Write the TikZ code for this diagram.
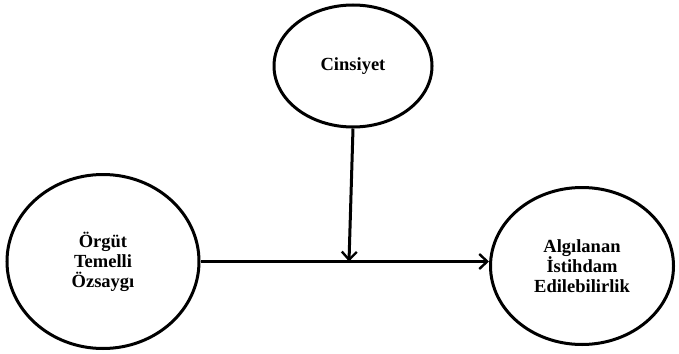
\documentclass[tikz,border=0pt]{standalone}
\usepackage{fontspec}
\setmainfont{Liberation Serif}
\usepackage{tikz}
\usetikzlibrary{arrows.meta,positioning,shapes.geometric}
\tikzset{>={Straight Barb[length=8pt,width=15pt,line width=2.4pt]}}
\tikzset{
  var/.style={ellipse, draw=black, line width=3pt, align=center,
    inner sep=0pt, font=\bfseries\fontsize{18.5}{20}\selectfont},
  flow/.style={->, line width=3pt}
}

\begin{document}
\begin{tikzpicture}[x=1pt, y=-1pt] % 1 px = 1 pt
\useasboundingbox (0,0) rectangle (679,353);

% Degiskenler
\node[var, minimum width=192pt, minimum height=174pt] (ozsaygi) at (103,261.5) {Örgüt\\Temelli\\Özsaygı};
\node[var, minimum width=183pt, minimum height=157pt] (istihdam) at (582,266) {Algılanan\\İstihdam\\Edilebilirlik};
\node[var, minimum width=158pt, minimum height=122pt] (cinsiyet) at (353,66) {Cinsiyet};

% Yollar
\coordinate (kesisim) at (349,261.5);
\draw[flow] (ozsaygi.east) -- (ozsaygi.east -| istihdam.west);
\draw[flow] (cinsiyet.south) -- (kesisim);

\end{tikzpicture}
\end{document}
